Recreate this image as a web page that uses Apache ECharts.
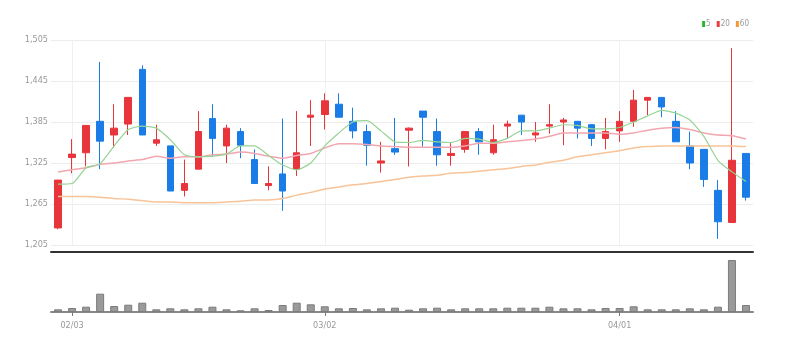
<!DOCTYPE html>
<html>
<head>
<meta charset="utf-8">
<script src="https://cdn.jsdelivr.net/npm/echarts@6/dist/echarts.min.js"></script>
<style>
  html, body { margin: 0; padding: 0; background: #fff; }
  #chart { width: 787px; height: 351px; }
</style>
</head>
<body>
<div id="chart"></div>
<script>
var dates = ["01/28","02/03","02/04","02/07","02/08","02/09","02/10","02/11","02/14","02/15",
  "02/16","02/17","02/18","02/21","02/22","02/23","02/24","02/25","02/28","03/02",
  "03/03","03/04","03/07","03/08","03/10","03/11","03/14","03/15","03/16","03/17",
  "03/18","03/21","03/22","03/23","03/24","03/25","03/28","03/29","03/30","03/31",
  "04/01","04/04","04/05","04/06","04/07","04/08","04/11","04/12","04/13","04/14"];

// open, close, low, high
var candles = [
  [1230,1300,1228,1300],[1333,1338,1310,1360],[1340,1380,1320,1380],[1386,1357,1316,1473],
  [1366,1376,1347,1411],[1382,1421,1366,1421],[1462,1366,1366,1468],[1354,1359,1350,1381],
  [1350,1284,1284,1350],[1285,1295,1276,1330],[1316,1371,1316,1401],[1390,1361,1334,1411],
  [1350,1376,1325,1381],[1371,1351,1332,1376],[1330,1295,1295,1345],[1292,1295,1285,1320],
  [1309,1284,1255,1390],[1316,1340,1306,1401],[1392,1395,1350,1417],[1396,1416,1374,1427],
  [1411,1392,1392,1427],[1386,1372,1361,1406],[1371,1351,1321,1381],[1325,1328,1311,1356],
  [1346,1341,1337,1391],[1373,1376,1320,1377],[1401,1392,1349,1401],[1371,1337,1321,1390],
  [1336,1339,1321,1354],[1345,1371,1340,1371],[1371,1356,1337,1376],[1340,1359,1337,1381],
  [1379,1382,1361,1387],[1395,1385,1366,1395],[1366,1369,1356,1385],[1379,1381,1368,1411],
  [1385,1388,1351,1391],[1386,1376,1361,1386],[1381,1361,1350,1382],[1361,1371,1345,1391],
  [1372,1386,1356,1401],[1386,1417,1378,1432],[1417,1421,1395,1421],[1421,1407,1392,1421],
  [1386,1356,1356,1401],[1350,1325,1316,1371],[1345,1301,1290,1345],[1285,1239,1214,1300],
  [1238,1329,1238,1493],[1339,1275,1270,1339]
];

var ma5 = [1294,1295,1318,1324,1350,1374,1379,1376,1359,1337,
  1334,1335,1338,1350,1350,1336,1322,1315,1325,1350,
  1369,1385,1387,1372,1356,1355,1358,1356,1355,1361,
  1360,1355,1361,1372,1372,1376,1381,1380,1375,1375,
  1377,1385,1394,1402,1398,1388,1364,1329,1312,1298];

var ma20 = [1312,1315,1318,1323,1325,1328,1330,1335,1332,1334,
  1334,1337,1338,1341,1339,1335,1332,1336,1339,1347,
  1353,1353,1352,1350,1349,1348,1348,1348,1348,1350,
  1354,1354,1356,1358,1360,1364,1369,1369,1369,1369,
  1367,1369,1373,1376,1377,1374,1369,1366,1365,1360];

var ma60 = [1276,1276,1276,1275,1273,1272,1270,1268,1268,1267,
  1267,1267,1268,1269,1271,1271,1273,1278,1282,1287,
  1290,1293,1295,1298,1301,1304,1306,1307,1310,1311,
  1313,1315,1317,1320,1322,1326,1329,1334,1337,1340,
  1343,1347,1349,1350,1350,1350,1350,1350,1350,1349];

var volumes = [270000,400000,530000,1830000,600000,730000,930000,270000,370000,270000,
  370000,530000,270000,170000,370000,200000,700000,930000,770000,570000,
  370000,400000,270000,370000,430000,230000,370000,430000,270000,370000,
  370000,370000,430000,430000,430000,530000,370000,370000,270000,400000,
  400000,570000,270000,270000,270000,370000,270000,530000,5200000,700000];

var priceTicks = [1205, 1265, 1325, 1385, 1445, 1505];

var font = '"Liberation Sans Narrow", "DejaVu Sans Condensed", "Liberation Sans", sans-serif';

// show a date label on the first trading day of each new month
function monthStart(i) {
  return i > 0 && dates[i].slice(0, 2) !== dates[i - 1].slice(0, 2);
}

var chart = echarts.init(document.getElementById('chart'));
chart.setOption({
  animation: false,
  legend: {
    data: ['5', '20', '60'],
    icon: 'rect',
    itemWidth: 3,
    itemHeight: 6,
    itemGap: 6,
    right: 38,
    top: 20,
    padding: 0,
    textStyle: { fontSize: 8, color: '#999', fontFamily: font, padding: [0, 0, 0, -4] }
  },
  grid: [
    { left: 51, right: 34, top: 40, height: 205 },
    { left: 51, right: 34, top: 254, height: 58 }
  ],
  xAxis: [
    {
      type: 'category', gridIndex: 0, data: dates, boundaryGap: true,
      offset: 7,
      axisLine: { show: true, onZero: false, lineStyle: { color: '#333', width: 2 } },
      axisTick: { show: false },
      axisLabel: { show: false },
      splitLine: { show: true, interval: monthStart, alignWithLabel: true, lineStyle: { color: '#f0f0f0' } }
    },
    {
      type: 'category', gridIndex: 1, data: dates, boundaryGap: true,
      axisLine: { show: true, lineStyle: { color: '#888', width: 2 } },
      axisTick: { show: true, alignWithLabel: true, interval: monthStart, length: 4, lineStyle: { color: '#777' } },
      axisLabel: { interval: monthStart, color: '#999', fontSize: 9, fontFamily: font, margin: 9 },
      splitLine: { show: false }
    }
  ],
  yAxis: [
    {
      type: 'value', gridIndex: 0, min: priceTicks[0], max: priceTicks[priceTicks.length - 1], interval: 60,
      axisLine: { show: false },
      axisTick: { show: false },
      axisLabel: {
        color: '#999', fontSize: 9, fontFamily: font, margin: 3,
        formatter: function (v) { return v.toLocaleString('en-US'); }
      },
      splitLine: { lineStyle: { color: '#ececec' } }
    },
    {
      type: 'value', gridIndex: 1, min: 0, max: 5800000,
      axisLine: { show: false }, axisTick: { show: false },
      axisLabel: { show: false }, splitLine: { show: false }
    }
  ],
  series: [
    {
      name: '60', type: 'line', data: ma60, xAxisIndex: 0, yAxisIndex: 0,
      showSymbol: false, smooth: 0.2,
      itemStyle: { color: '#f5992c' },
      lineStyle: { color: '#f8c398', width: 1.5 }
    },
    {
      name: '20', type: 'line', data: ma20, xAxisIndex: 0, yAxisIndex: 0,
      showSymbol: false, smooth: 0.2,
      itemStyle: { color: '#ec3a40' },
      lineStyle: { color: '#f2a6b0', width: 1.5 }
    },
    {
      name: '5', type: 'line', data: ma5, xAxisIndex: 0, yAxisIndex: 0,
      showSymbol: false, smooth: 0.2,
      itemStyle: { color: '#2cb52c' },
      lineStyle: { color: '#95d495', width: 1.2 }
    },
    {
      name: 'price', type: 'candlestick', data: candles, xAxisIndex: 0, yAxisIndex: 0,
      barWidth: 7,
      itemStyle: {
        color: '#e8343b', color0: '#1a7ce6',
        borderColor: '#e8343b', borderColor0: '#1a7ce6', borderWidth: 1
      }
    },
    {
      name: 'volume', type: 'bar', data: volumes, xAxisIndex: 1, yAxisIndex: 1,
      barWidth: 8,
      itemStyle: { color: '#9a9a9a', borderColor: '#7c7c7c', borderWidth: 1 }
    }
  ]
});
</script>
</body>
</html>
